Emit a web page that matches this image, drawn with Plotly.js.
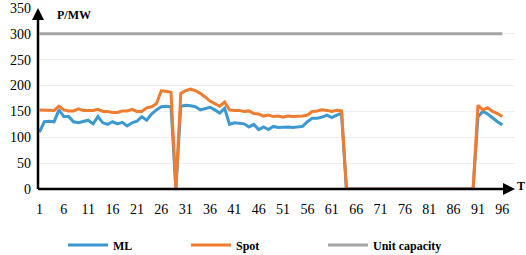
<!DOCTYPE html>
<html>
<head>
<meta charset="utf-8">
<script src="https://cdn.plot.ly/plotly-3.0.1.min.js"></script>
<style>html,body{margin:0;padding:0;background:#fff;}#chart{width:526px;height:255px;}</style>
</head>
<body>
<div id="chart"></div>
<script>
const periods = Array.from({length: 96}, (_, k) => k + 1);
const mlValues = [
  110,130,131,130,153,140,140,130,128,130,
  133,126,140,128,125,130,126,129,122,128,
  131,140,133,145,153,159,160,159,0,160,
  162,161,159,153,155,158,153,147,156,125,
  128,127,126,120,125,115,120,115,121,119,
  120,120,119,120,121,130,137,137,139,143,
  138,143,146,0,0,0,0,0,0,0,
  0,0,0,0,0,0,0,0,0,0,
  0,0,0,0,0,0,0,0,0,0,
  140,150,145,137,130,124
];
const spotValues = [
  153,153,153,152,160,153,151,151,155,152,
  152,152,154,150,150,148,148,151,151,154,
  150,150,157,159,165,190,189,187,0,185,
  190,193,190,185,178,170,165,160,168,153,
  152,152,150,151,146,145,141,143,140,141,
  139,141,140,140,141,143,150,151,153,152,
  150,152,151,0,0,0,0,0,0,0,
  0,0,0,0,0,0,0,0,0,0,
  0,0,0,0,0,0,0,0,0,0,
  162,153,157,150,146,140
];
const capacityValues = periods.map(() => 300);
const xTicks = [1,6,11,16,21,26,31,36,41,46,51,56,61,66,71,76,81,86,91,96];
const yTicks = [0,50,100,150,200,250,300,350];

const serif = 'Liberation Serif, Times New Roman, serif';
const traces = [
  {x: periods, y: mlValues, name: 'ML', type: 'scatter', mode: 'lines', legend: 'legend',
   line: {color: '#3c98d0', width: 3}},
  {x: periods, y: spotValues, name: 'Spot', type: 'scatter', mode: 'lines', legend: 'legend2',
   line: {color: '#ef7d31', width: 3}},
  {x: periods, y: capacityValues, name: 'Unit capacity', type: 'scatter', mode: 'lines', legend: 'legend3',
   line: {color: '#a5a5a5', width: 3}}
];
function legendAt(px) {
  return {orientation: 'h', x: (px - 38) / 477, xanchor: 'left', y: -0.31, yanchor: 'middle',
          bgcolor: 'rgba(0,0,0,0)', itemwidth: 40,
          font: {family: serif, size: 12, color: '#000', weight: 'bold'}};
}
const layout = {
  width: 526, height: 255,
  margin: {l: 38, r: 11, t: 8, b: 66, autoexpand: false},
  paper_bgcolor: '#fff', plot_bgcolor: '#fff',
  showlegend: true,
  legend: legendAt(63),
  legend2: legendAt(186),
  legend3: legendAt(323),
  xaxis: {range: [0.7, 98.6], tickvals: xTicks, ticktext: xTicks.map(String),
          showgrid: false, zeroline: false, showline: false, ticks: '',
          ticklabelstandoff: 10,
          tickfont: {family: serif, size: 14, color: '#000'}},
  yaxis: {range: [0, 350], tickvals: yTicks, ticktext: yTicks.map(String),
          showgrid: true, gridcolor: '#efefef', gridwidth: 1, zeroline: false,
          showline: false, ticks: '', ticklabelstandoff: 6,
          tickfont: {family: serif, size: 14, color: '#000'}},
  shapes: [
    {type: 'line', xref: 'paper', yref: 'paper', x0: 0, x1: 0, y0: 0, y1: 0.97,
     line: {color: '#000', width: 2.5}},
    {type: 'line', xref: 'paper', yref: 'paper', x0: 0, x1: 0.985, y0: 0, y1: 0,
     line: {color: '#000', width: 2.5}}
  ],
  annotations: [
    {xref: 'paper', yref: 'paper', x: 0, y: 1.0, ax: 0, ay: 12, text: '',
     showarrow: true, arrowhead: 2, arrowsize: 1.2, arrowwidth: 2, arrowcolor: '#000'},
    {xref: 'paper', yref: 'paper', x: 1.0, y: 0, ax: -12, ay: 0, text: '',
     showarrow: true, arrowhead: 2, arrowsize: 1.2, arrowwidth: 2, arrowcolor: '#000'},
    {xref: 'paper', yref: 'paper', x: 0.035, y: 0.96, xanchor: 'left', yanchor: 'middle',
     text: '<b>P/MW</b>', showarrow: false, font: {family: serif, size: 12, color: '#000'}},
    {xref: 'paper', yref: 'y', x: 1.0, y: 0, xshift: 6, yshift: 3, xanchor: 'center', yanchor: 'middle',
     text: '<b>T</b>', showarrow: false, font: {family: serif, size: 12, color: '#000'}}
  ]
};
Plotly.newPlot('chart', traces, layout, {displayModeBar: false, staticPlot: true});
</script>
</body>
</html>
